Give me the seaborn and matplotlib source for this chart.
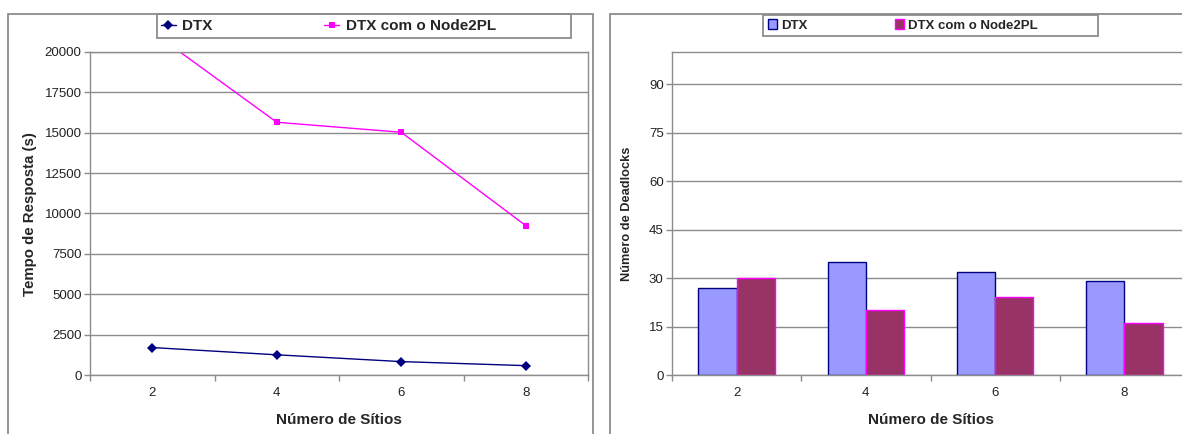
import matplotlib
matplotlib.use("Agg")
import matplotlib.pyplot as plt
from matplotlib.patches import Rectangle, Patch
from matplotlib.lines import Line2D
from matplotlib.ticker import FixedLocator, MultipleLocator
import pandas as pd
import seaborn as sns

# Número de sítios (categorias do eixo x)
sites = ["2", "4", "6", "8"]
series = ["DTX", "DTX com o Node2PL"]

# Tempo de resposta (s)
tempo_dtx = [1700, 1250, 830, 580]
tempo_node2pl = [21250, 15650, 15030, 9250]

# Número de deadlocks
deadlocks_dtx = [27, 35, 32, 29]
deadlocks_node2pl = [30, 20, 24, 16]

line_colors = {"DTX": "#000080", "DTX com o Node2PL": "#FF00FF"}
bar_fill = {"DTX": "#9999FF", "DTX com o Node2PL": "#993366"}
bar_edge = {"DTX": "#000080", "DTX com o Node2PL": "#FF00FF"}
GRID = "#8c8c8c"

df_tempo = pd.DataFrame({
    "sites": sites * 2,
    "tempo": tempo_dtx + tempo_node2pl,
    "serie": [series[0]] * 4 + [series[1]] * 4,
})
df_dead = pd.DataFrame({
    "sites": sites * 2,
    "deadlocks": deadlocks_dtx + deadlocks_node2pl,
    "serie": [series[0]] * 4 + [series[1]] * 4,
})

sns.set_theme(style="white")
plt.rcParams["font.family"] = ["Liberation Sans", "DejaVu Sans"]

W, H = 1182, 434
fig = plt.figure(figsize=(W / 100, H / 100), dpi=100)


def fx(px):
    return px / W


def fy(py):
    return 1 - py / H


# molduras dos dois gráficos
for x0, x1 in [(8, 593), (610, 1220)]:
    fig.patches.append(Rectangle((fx(x0), fy(445)), fx(x1 - x0), (445 - 14) / H,
                                 transform=fig.transFigure, fill=False,
                                 edgecolor=GRID, lw=1.3, zorder=0))


def style_axes(ax, ymax, ystep):
    ax.set_xlim(-0.5, 3.5)
    ax.set_ylim(0, ymax)
    ax.yaxis.set_major_locator(MultipleLocator(ystep))
    ax.set_axisbelow(True)
    ax.yaxis.grid(True, color=GRID, lw=1)
    ax.xaxis.grid(False)
    for sp in ax.spines.values():
        sp.set_color(GRID)
        sp.set_linewidth(1)
    ax.xaxis.set_minor_locator(FixedLocator([-0.5, 0.5, 1.5, 2.5, 3.5]))
    ax.tick_params(axis="x", which="major", bottom=True, length=0, pad=9,
                   labelsize=9.5, labelcolor="#222222")
    ax.tick_params(axis="x", which="minor", bottom=True, length=4, width=1,
                   color=GRID)
    ax.tick_params(axis="y", which="major", left=True, length=4, width=1,
                   color=GRID, pad=2, labelsize=9.5, labelcolor="#222222")
    ax.set_xlabel("")
    ax.set_ylabel("")


# --- Tempo de resposta ---
ax1 = fig.add_axes([fx(90), fy(375), fx(588 - 90), (375 - 52) / H])
sns.lineplot(data=df_tempo, x="sites", y="tempo", hue="serie", style="serie",
             palette=line_colors, markers={"DTX": "D", "DTX com o Node2PL": "s"},
             dashes=False, sort=False, lw=1, markersize=5,
             markeredgewidth=0, legend=False, ax=ax1)
style_axes(ax1, 20000, 2500)

fig.text(fx(30), fy(214), "Tempo de Resposta (s)", rotation=90, ha="center",
         va="center", fontsize=10.8, fontweight="bold")
fig.text(fx(339), fy(420), "Número de Sítios", ha="center", va="center",
         fontsize=11, fontweight="bold")

fig.patches.append(Rectangle((fx(157), fy(38)), fx(571 - 157), 24 / H,
                             transform=fig.transFigure, fill=False,
                             edgecolor=GRID, lw=1.3))
h1 = [Line2D([], [], color=line_colors[s], lw=1, marker=m, markersize=5,
             markeredgewidth=0) for s, m in zip(series, ["D", "s"])]
fig.legend(h1, series, ncol=2, loc="center left",
           bbox_to_anchor=(fx(161), fy(26.5)), frameon=False,
           prop={"weight": "bold", "size": 11}, handlelength=0.95,
           handletextpad=0.45, columnspacing=7.3, borderpad=0, borderaxespad=0)

# --- Número de deadlocks ---
ax2 = fig.add_axes([fx(672), fy(375), fx(1189 - 672), (375 - 52) / H])
sns.barplot(data=df_dead, x="sites", y="deadlocks", hue="serie",
            palette=bar_fill, width=0.59, gap=0, saturation=1,
            legend=False, ax=ax2)
for cont, s in zip(ax2.containers, series):
    for bar in cont:
        bar.set_edgecolor(bar_edge[s])
        bar.set_linewidth(1)
style_axes(ax2, 100, 15)

fig.text(fx(627), fy(214), "Número de Deadlocks", rotation=90, ha="center",
         va="center", fontsize=9.2, fontweight="bold")
fig.text(fx(931), fy(420), "Número de Sítios", ha="center", va="center",
         fontsize=11, fontweight="bold")

fig.patches.append(Rectangle((fx(763), fy(36)), fx(1098 - 763), 21 / H,
                             transform=fig.transFigure, fill=False,
                             edgecolor=GRID, lw=1.3))
h2 = [Patch(facecolor=bar_fill[s], edgecolor=bar_edge[s], lw=1) for s in series]
fig.legend(h2, series, ncol=2, loc="center left",
           bbox_to_anchor=(fx(768), fy(25.5)), frameon=False,
           prop={"weight": "bold", "size": 9.5}, handlelength=0.7,
           handleheight=0.7, handletextpad=0.32, columnspacing=6.6,
           borderpad=0, borderaxespad=0)

fig.savefig("out.png", dpi=100)
